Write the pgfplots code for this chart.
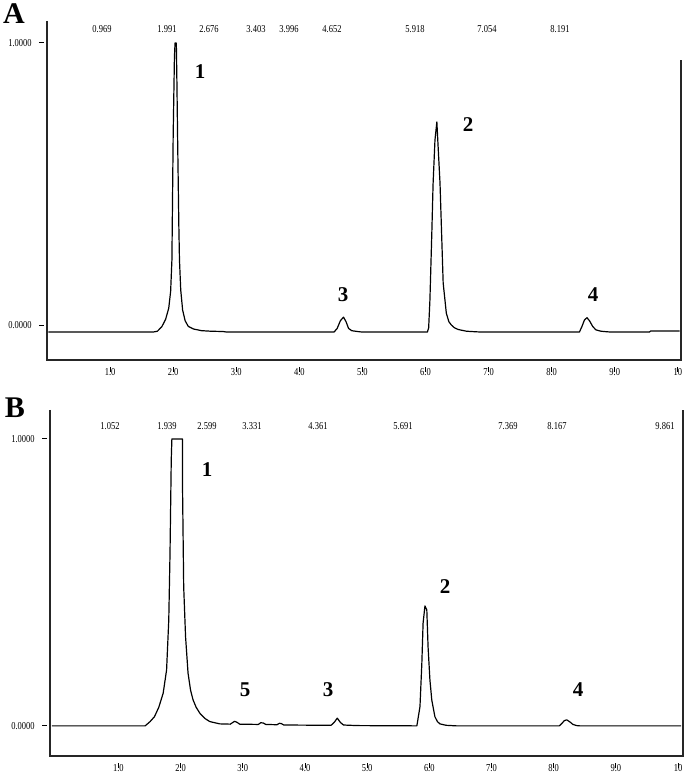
\documentclass[border=0pt]{standalone}
\usepackage{pgfplots}
\pgfplotsset{compat=1.18}
\usepackage{fontspec}
\setmainfont{Liberation Serif}
\newfontfamily\tickfont[FakeStretch=0.8]{Liberation Serif}
\newcommand{\tf}{\tickfont\fontsize{5.3}{6}\selectfont}
\newcommand{\pf}{\bfseries\fontsize{10.5}{11}\selectfont}

\pgfplotsset{
  chrom/.style={
    scale only axis,
    clip=false,
    axis x line*=bottom, axis y line*=left,
    axis line style={draw=none},
    xtick={1,2,3,4,5,6,7,8,9,10},
    xticklabels={1.0,2.0,3.0,4.0,5.0,6.0,7.0,8.0,9.0,10},
    ytick={0,1}, yticklabels={0.0000,1.0000},
    tick align=outside,
    major tick length=2.5pt,
    xtick style={yshift=-3.5pt, line width=0.4pt, black},
    ytick style={xshift=-1.5pt, line width=0.5pt, black},
    xticklabel style={font=\tf, anchor=center, inner sep=0pt, yshift=-3.5pt},
    yticklabel style={font=\tf, anchor=east, inner sep=0pt, xshift=-5pt},
  },
  trace/.style={black, line width=0.6pt, line join=round, mark=none},
}

\begin{document}
\begin{tikzpicture}
\path[use as bounding box] (0,0) rectangle (342.5pt,386pt);

% ---------- Panel A ----------
\begin{axis}[chrom,
  at={(23.5pt,206pt)}, anchor=south west,
  width=317pt, height=169.5pt,
  xmin=0, xmax=10.05, ymin=-0.124, ymax=1.078]
\addplot[trace] coordinates {
(0.02,-0.025) (1.68,-0.025) (1.75,-0.022) (1.82,-0.006) (1.88,0.02) (1.93,0.06)
(1.96,0.12) (1.98,0.23) (2.00,0.67) (2.02,0.95) (2.03,1.0) (2.05,1.0) (2.06,0.85)
(2.07,0.67) (2.09,0.35) (2.10,0.23) (2.12,0.124) (2.15,0.053) (2.19,0.015)
(2.24,-0.005) (2.32,-0.014) (2.45,-0.02) (2.60,-0.022) (2.79,-0.023) (2.85,-0.025)
(4.55,-0.025) (4.60,-0.012) (4.65,0.015) (4.70,0.028) (4.74,0.012) (4.78,-0.012)
(4.83,-0.02) (4.92,-0.023) (5.0,-0.025)
(6.03,-0.025) (6.05,-0.01) (6.07,0.089) (6.10,0.326) (6.12,0.50) (6.15,0.656)
(6.18,0.72) (6.20,0.632) (6.23,0.503) (6.255,0.326) (6.28,0.149) (6.33,0.042)
(6.37,0.012) (6.41,0.0) (6.46,-0.01) (6.52,-0.016) (6.65,-0.022) (6.80,-0.024)
(6.9,-0.025)
(8.44,-0.025) (8.48,-0.005) (8.52,0.018) (8.56,0.026) (8.60,0.015) (8.65,-0.005)
(8.70,-0.017) (8.78,-0.022) (8.88,-0.024) (8.95,-0.025) (9.55,-0.025)
(9.57,-0.021) (10.03,-0.021)
};
\draw[black!85, line width=0.8pt] (rel axis cs:0,1) -- (rel axis cs:0,0)
  -- (rel axis cs:1,0) -- (rel axis cs:1,0.885);
\end{axis}

% ---------- Panel B ----------
\begin{axis}[chrom,
  at={(25pt,8pt)}, anchor=south west,
  width=316.5pt, height=173pt,
  xmin=-0.1, xmax=10.08, ymin=-0.105, ymax=1.101]
\addplot[trace] coordinates {
(-0.07,0) (1.43,0) (1.51,0.015) (1.58,0.032) (1.65,0.065) (1.72,0.114)
(1.775,0.195) (1.81,0.369) (1.83,0.60) (1.85,0.927) (1.86,1.0) (2.03,1.0)
(2.03,0.857) (2.05,0.485) (2.08,0.311) (2.12,0.184) (2.16,0.125) (2.20,0.091)
(2.25,0.065) (2.31,0.044) (2.39,0.026) (2.47,0.015) (2.63,0.007) (2.80,0.006)
(2.84,0.012) (2.87,0.016) (2.91,0.012) (2.95,0.006) (3.25,0.005) (3.29,0.011)
(3.33,0.010) (3.37,0.005) (3.55,0.004) (3.59,0.009) (3.62,0.008) (3.66,0.003)
(4.42,0.002) (4.47,0.012) (4.52,0.027) (4.57,0.012) (4.62,0.003) (4.84,0.001)
(5.80,0) (5.85,0.067) (5.88,0.218) (5.90,0.358) (5.93,0.418) (5.96,0.404)
(5.98,0.276) (6.01,0.16) (6.04,0.09) (6.09,0.032) (6.13,0.015) (6.17,0.007)
(6.27,0.002) (6.44,0) (8.09,0) (8.13,0.008) (8.17,0.018) (8.21,0.021)
(8.26,0.014) (8.31,0.005) (8.37,0.001) (8.42,0) (10.05,0)
};
\draw[black!85, line width=0.8pt] (rel axis cs:0,1) -- (rel axis cs:0,0)
  -- (rel axis cs:1,0) -- (rel axis cs:1,1);
\end{axis}

% ---------- Annotations (pixel coordinates, origin top-left) ----------
\begin{scope}[shift={(0pt,386pt)}, x=0.5pt, y=-0.5pt]
\node[font=\bfseries\fontsize{15}{15}\selectfont] at (14,14) {A};
\node[font=\bfseries\fontsize{15}{15}\selectfont] at (15,408) {B};
% peak numbers
\node[font=\pf] at (200,72) {1};
\node[font=\pf] at (468,125) {2};
\node[font=\pf] at (343,295) {3};
\node[font=\pf] at (593,295) {4};
\node[font=\pf] at (207,470) {1};
\node[font=\pf] at (445,587) {2};
\node[font=\pf] at (245,690) {5};
\node[font=\pf] at (328,690) {3};
\node[font=\pf] at (578,690) {4};
% retention time labels
\foreach \px/\t in {102/0.969,167/1.991,209/2.676,256/3.403,289/3.996,332/4.652,415/5.918,487/7.054,560/8.191}
  \node[font=\tf, inner sep=0pt] at (\px,29) {\t};
\foreach \px/\t in {110/1.052,167/1.939,207/2.599,252/3.331,318/4.361,403/5.691,508/7.369,557/8.167,665/9.861}
  \node[font=\tf, inner sep=0pt] at (\px,426) {\t};
\end{scope}
\end{tikzpicture}
\end{document}
